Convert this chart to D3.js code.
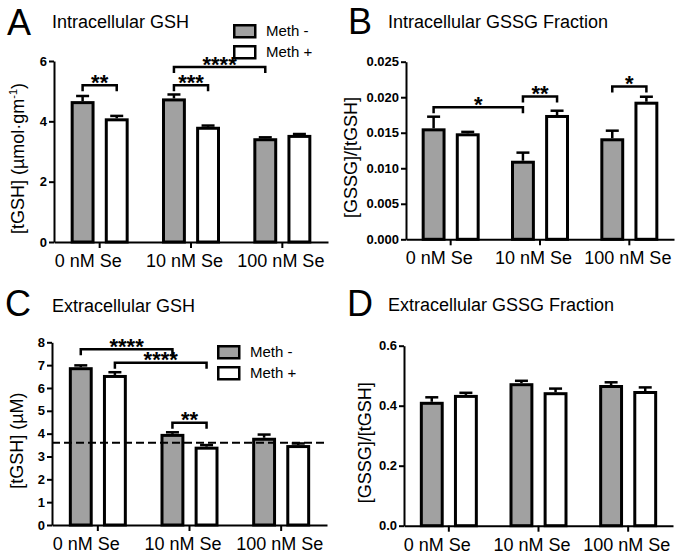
<!DOCTYPE html>
<html><head><meta charset="utf-8">
<script src="https://cdn.jsdelivr.net/npm/d3@7"></script>
<style>
body{margin:0;background:#fff}
svg{display:block}
text{font-family:"Liberation Sans",Arial,Helvetica,sans-serif;fill:#000}
</style>
</head><body><svg id="chart" width="689" height="556"></svg>
<script>
// ---------- data ----------
const categories = ["0 nM Se", "10 nM Se", "100 nM Se"];
const seriesNames = ["Meth -", "Meth +"];

// Panel A: Intracellular GSH
const aMethMinus = [4.67, 4.76, 3.44];
const aMethPlus  = [4.10, 3.82, 3.55];
const aErrMinus  = [0.17, 0.13, 0.03];
const aErrPlus   = [0.08, 0.04, 0.03];
const aTicks = [0, 2, 4, 6];
const aBrackets = [
  {from: [0, 0], to: [0, 1], y: 5.2, label: "**"},
  {from: [1, 0], to: [1, 1], y: 5.2, label: "***"},
  {from: [1, 0], to: [2, 0], y: 5.8, label: "****"}
];

// Panel B: Intracellular GSSG Fraction
const bMethMinus = [0.01562, 0.01106, 0.01422];
const bMethPlus  = [0.01492, 0.01750, 0.01937];
const bErrMinus  = [0.00164, 0.00114, 0.00107];
const bErrPlus   = [0.00020, 0.00060, 0.00070];
const bTicks = [0, 0.005, 0.010, 0.015, 0.020, 0.025];
const bBrackets = [
  {from: [0, 0], to: [1, 0], y: 0.0186, label: "*"},
  {from: [1, 0], to: [1, 1], y: 0.0201, label: "**"},
  {from: [2, 0], to: [2, 1], y: 0.0215, label: "*"}
];

// Panel C: Extracellular GSH
const cMethMinus = [6.91, 3.99, 3.82];
const cMethPlus  = [6.57, 3.43, 3.50];
const cErrMinus  = [0.08, 0.07, 0.14];
const cErrPlus   = [0.12, 0.07, 0.07];
const cTicks = [0, 1, 2, 3, 4, 5, 6, 7, 8];
const cReference = 3.6;
const cBrackets = [
  {from: [0, 0], to: [1, 0], y: 7.70, label: "****"},
  {from: [0, 1], to: [1, 1], y: 7.11, label: "****"},
  {from: [1, 0], to: [1, 1], y: 4.48, label: "**"}
];

// Panel D: Extracellular GSSG Fraction
const dMethMinus = [0.413, 0.475, 0.469];
const dMethPlus  = [0.436, 0.445, 0.449];
const dErrMinus  = [0.015, 0.008, 0.009];
const dErrPlus   = [0.007, 0.012, 0.012];
const dTicks = [0, 0.2, 0.4, 0.6];

// ---------- drawing ----------
const svg = d3.select("#chart");
const fills = {"Meth -": "#a1a1a1", "Meth +": "#ffffff"};
const BAR_SW = 3;

function drawPanel(p) {
  const g = svg.append("g");
  const y = d3.scaleLinear().domain([0, p.yMax]).range([p.yBottom, p.yTop]);
  const x = d3.scaleBand().domain(categories).range([p.xLeft, p.xRight]);
  const xi = d3.scaleBand().domain(seriesNames).range([-29, 29]).paddingInner(0.3);
  const cx = (ci, si) => x(categories[ci]) + x.bandwidth() / 2 + xi(seriesNames[si]) + xi.bandwidth() / 2;

  const rows = [];
  categories.forEach((c, i) => {
    seriesNames.forEach((s, j) => {
      rows.push({c, s, i, j, v: p.means[j][i], e: p.errs[j][i]});
    });
  });

  // bars
  g.selectAll("rect.bar").data(rows).enter().append("rect")
    .attr("class", "bar")
    .attr("x", d => x(d.c) + x.bandwidth() / 2 + xi(d.s) + BAR_SW / 2)
    .attr("width", xi.bandwidth() - BAR_SW)
    .attr("y", d => y(d.v) + BAR_SW / 2)
    .attr("height", d => y(0) - y(d.v) - BAR_SW / 2)
    .attr("fill", d => fills[d.s])
    .attr("stroke", "#000")
    .attr("stroke-width", BAR_SW);

  // error bars (upper only)
  const eg = g.append("g").attr("stroke", "#000").attr("stroke-width", 2.5).attr("fill", "none");
  rows.forEach(d => {
    const c = cx(d.i, d.j);
    eg.append("line").attr("x1", c).attr("x2", c).attr("y1", y(d.v)).attr("y2", y(d.v + d.e));
    eg.append("line").attr("x1", c - 6.5).attr("x2", c + 6.5).attr("y1", y(d.v + d.e)).attr("y2", y(d.v + d.e));
  });

  // reference line
  if (p.reference !== undefined) {
    g.append("line")
      .attr("x1", p.xLeft).attr("x2", p.xRight)
      .attr("y1", y(p.reference)).attr("y2", y(p.reference))
      .attr("stroke", "#000").attr("stroke-width", 2)
      .attr("stroke-dasharray", "8,4");
  }

  // axes
  const ya = g.append("g").attr("transform", `translate(${p.xLeft},0)`)
    .call(d3.axisLeft(y).tickValues(p.ticks).tickFormat(p.fmt).tickSize(5).tickSizeOuter(0).tickPadding(2));
  ya.select(".domain").attr("stroke-width", 2);
  ya.selectAll(".tick line").attr("stroke-width", 2);
  ya.selectAll("text").attr("font-size", 13).attr("font-weight", "bold")
    .style("font-family", '"Liberation Sans",Arial,sans-serif').attr("fill", "#000");

  const xa = g.append("g").attr("transform", `translate(0,${p.yBottom})`)
    .call(d3.axisBottom(x).tickSize(6).tickSizeOuter(0));
  xa.select(".domain").attr("stroke-width", 2);
  xa.selectAll(".tick line").attr("stroke-width", 2);
  xa.selectAll("text").attr("font-size", 18)
    .style("font-family", '"Liberation Sans",Arial,sans-serif').attr("fill", "#000")
    .attr("text-anchor", "start").attr("x", -45).attr("dy", null).attr("y", 25);

  // y label
  const yl = g.append("text")
    .attr("transform", `translate(${p.ylabelX},${(p.yTop + p.yBottom) / 2 + 7}) rotate(-90)`)
    .attr("text-anchor", "middle").attr("font-size", 18);
  p.ylabel.forEach(part => {
    const t = yl.append("tspan").text(part.t);
    if (part.sup) t.attr("font-size", 11).attr("dy", -7);
    if (part.after) t.attr("dy", 7);
  });

  // panel letter and title
  g.append("text").attr("x", p.letter[0]).attr("y", p.letter[1]).attr("font-size", 36).text(p.letterText);
  g.append("text").attr("x", p.title[0]).attr("y", p.title[1]).attr("font-size", 18).text(p.titleText);

  // significance brackets
  (p.brackets || []).forEach(b => {
    const x1 = cx(b.from[0], b.from[1]);
    const x2 = cx(b.to[0], b.to[1]);
    const yb = y(b.y);
    g.append("path")
      .attr("d", `M${x1},${yb + 6}V${yb}H${x2}V${yb + 6}`)
      .attr("fill", "none").attr("stroke", "#000").attr("stroke-width", 2.5);
    g.append("text").attr("x", (x1 + x2) / 2).attr("y", yb + 4.5)
      .attr("text-anchor", "middle").attr("font-size", 22).attr("font-weight", "bold")
      .text(b.label);
  });

  // legend
  if (p.legend) {
    seriesNames.forEach((s, k) => {
      const ly = p.legend[1] + k * 21;
      g.append("rect").attr("x", p.legend[0] + 1.25).attr("y", ly + 1.25)
        .attr("width", 21).attr("height", 12)
        .attr("fill", fills[s]).attr("stroke", "#000").attr("stroke-width", 2.5);
      g.append("text").attr("x", p.legend[0] + 33).attr("y", ly + 12)
        .attr("font-size", 15).text(s);
    });
  }
}

drawPanel({
  letterText: "A", titleText: "Intracellular GSH", letter: [7, 35], title: [52, 28],
  xLeft: 54, xRight: 328, yTop: 61, yBottom: 242, yMax: 6,
  ticks: aTicks, fmt: d3.format("d"),
  means: [aMethMinus, aMethPlus], errs: [aErrMinus, aErrPlus],
  ylabelX: 24,
  ylabel: [{t: "[tGSH] (µmol·gm"}, {t: "-1", sup: true}, {t: ")", after: true}],
  brackets: aBrackets, legend: [233, 24]
});

drawPanel({
  letterText: "B", titleText: "Intracellular GSSG Fraction", letter: [348, 34], title: [388, 28],
  xLeft: 406, xRight: 674, yTop: 61.7, yBottom: 239.3, yMax: 0.025,
  ticks: bTicks, fmt: d3.format(".3f"),
  means: [bMethMinus, bMethPlus], errs: [bErrMinus, bErrPlus],
  ylabelX: 357,
  ylabel: [{t: "[GSSG]/[tGSH]"}],
  brackets: bBrackets
});

drawPanel({
  letterText: "C", titleText: "Extracellular GSH", letter: [5, 316], title: [52, 312],
  xLeft: 52, xRight: 327, yTop: 342.3, yBottom: 525, yMax: 8,
  ticks: cTicks, fmt: d3.format("d"),
  means: [cMethMinus, cMethPlus], errs: [cErrMinus, cErrPlus],
  ylabelX: 23,
  ylabel: [{t: "[tGSH] (µM)"}],
  brackets: cBrackets, legend: [217, 345], reference: cReference
});

drawPanel({
  letterText: "D", titleText: "Extracellular GSSG Fraction", letter: [347, 316], title: [388, 311],
  xLeft: 404, xRight: 673, yTop: 345.7, yBottom: 525.7, yMax: 0.6,
  ticks: dTicks, fmt: d3.format(".1f"),
  means: [dMethMinus, dMethPlus], errs: [dErrMinus, dErrPlus],
  ylabelX: 371,
  ylabel: [{t: "[GSSG]/[tGSH]"}]
});
</script>
</body></html>
